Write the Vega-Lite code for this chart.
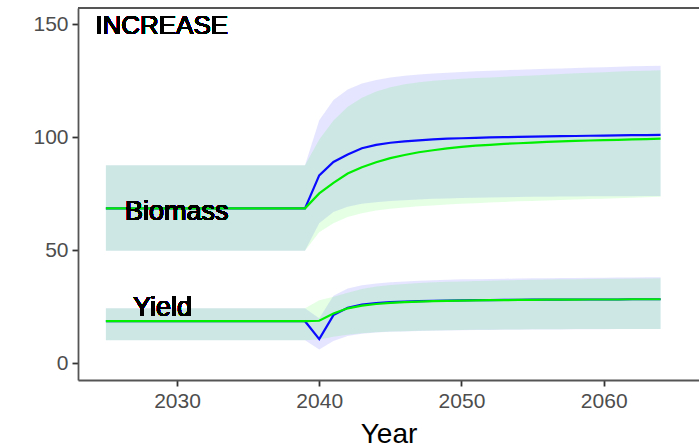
{
  "$schema": "https://vega.github.io/schema/vega-lite/v6.json",
  "width": 621,
  "height": 372,
  "autosize": {"type": "none"},
  "padding": {"left": 78, "top": 8, "right": 0, "bottom": 68},
  "background": "white",
  "config": {
    "view": {"stroke": null},
    "font": "Liberation Sans",
    "axis": {
      "grid": false,
      "domainColor": "#555555",
      "domainWidth": 1.8,
      "tickColor": "#333333",
      "tickWidth": 1.8,
      "tickSize": 6,
      "labelFont": "Liberation Sans",
      "labelFontSize": 21,
      "labelColor": "#4d4d4d",
      "titleFont": "Liberation Sans",
      "titleFontWeight": "normal",
      "titleColor": "#000000"
    }
  },
  "data": {
    "values": [
      {"year":2025,"metric":"Biomass","scenario":"blue","median":68.6,"lower":49.8,"upper":87.7},
      {"year":2026,"metric":"Biomass","scenario":"blue","median":68.6,"lower":49.8,"upper":87.7},
      {"year":2027,"metric":"Biomass","scenario":"blue","median":68.6,"lower":49.8,"upper":87.7},
      {"year":2028,"metric":"Biomass","scenario":"blue","median":68.6,"lower":49.8,"upper":87.7},
      {"year":2029,"metric":"Biomass","scenario":"blue","median":68.6,"lower":49.8,"upper":87.7},
      {"year":2030,"metric":"Biomass","scenario":"blue","median":68.6,"lower":49.8,"upper":87.7},
      {"year":2031,"metric":"Biomass","scenario":"blue","median":68.6,"lower":49.8,"upper":87.7},
      {"year":2032,"metric":"Biomass","scenario":"blue","median":68.6,"lower":49.8,"upper":87.7},
      {"year":2033,"metric":"Biomass","scenario":"blue","median":68.6,"lower":49.8,"upper":87.7},
      {"year":2034,"metric":"Biomass","scenario":"blue","median":68.6,"lower":49.8,"upper":87.7},
      {"year":2035,"metric":"Biomass","scenario":"blue","median":68.6,"lower":49.8,"upper":87.7},
      {"year":2036,"metric":"Biomass","scenario":"blue","median":68.6,"lower":49.8,"upper":87.7},
      {"year":2037,"metric":"Biomass","scenario":"blue","median":68.6,"lower":49.8,"upper":87.7},
      {"year":2038,"metric":"Biomass","scenario":"blue","median":68.6,"lower":49.8,"upper":87.7},
      {"year":2039,"metric":"Biomass","scenario":"blue","median":68.6,"lower":49.8,"upper":87.7},
      {"year":2040,"metric":"Biomass","scenario":"blue","median":83.2,"lower":62.0,"upper":107.6},
      {"year":2041,"metric":"Biomass","scenario":"blue","median":89.1,"lower":67.0,"upper":116.5},
      {"year":2042,"metric":"Biomass","scenario":"blue","median":92.4,"lower":69.3,"upper":121.2},
      {"year":2043,"metric":"Biomass","scenario":"blue","median":95.2,"lower":70.6,"upper":123.8},
      {"year":2044,"metric":"Biomass","scenario":"blue","median":96.7,"lower":71.3,"upper":125.4},
      {"year":2045,"metric":"Biomass","scenario":"blue","median":97.6,"lower":71.8,"upper":126.5},
      {"year":2046,"metric":"Biomass","scenario":"blue","median":98.2,"lower":72.2,"upper":127.2},
      {"year":2047,"metric":"Biomass","scenario":"blue","median":98.7,"lower":72.5,"upper":127.8},
      {"year":2048,"metric":"Biomass","scenario":"blue","median":99.1,"lower":72.8,"upper":128.2},
      {"year":2049,"metric":"Biomass","scenario":"blue","median":99.4,"lower":73.0,"upper":128.6},
      {"year":2050,"metric":"Biomass","scenario":"blue","median":99.6,"lower":73.2,"upper":128.9},
      {"year":2051,"metric":"Biomass","scenario":"blue","median":99.8,"lower":73.3,"upper":129.2},
      {"year":2052,"metric":"Biomass","scenario":"blue","median":100.0,"lower":73.4,"upper":129.5},
      {"year":2053,"metric":"Biomass","scenario":"blue","median":100.1,"lower":73.5,"upper":129.7},
      {"year":2054,"metric":"Biomass","scenario":"blue","median":100.2,"lower":73.6,"upper":129.9},
      {"year":2055,"metric":"Biomass","scenario":"blue","median":100.3,"lower":73.7,"upper":130.1},
      {"year":2056,"metric":"Biomass","scenario":"blue","median":100.4,"lower":73.7,"upper":130.3},
      {"year":2057,"metric":"Biomass","scenario":"blue","median":100.5,"lower":73.8,"upper":130.5},
      {"year":2058,"metric":"Biomass","scenario":"blue","median":100.6,"lower":73.8,"upper":130.7},
      {"year":2059,"metric":"Biomass","scenario":"blue","median":100.7,"lower":73.9,"upper":130.9},
      {"year":2060,"metric":"Biomass","scenario":"blue","median":100.8,"lower":73.9,"upper":131.0},
      {"year":2061,"metric":"Biomass","scenario":"blue","median":100.9,"lower":74.0,"upper":131.2},
      {"year":2062,"metric":"Biomass","scenario":"blue","median":101.0,"lower":74.0,"upper":131.4},
      {"year":2063,"metric":"Biomass","scenario":"blue","median":101.0,"lower":74.1,"upper":131.5},
      {"year":2064,"metric":"Biomass","scenario":"blue","median":101.1,"lower":74.1,"upper":131.7},

      {"year":2025,"metric":"Biomass","scenario":"green","median":68.6,"lower":49.8,"upper":87.7},
      {"year":2026,"metric":"Biomass","scenario":"green","median":68.6,"lower":49.8,"upper":87.7},
      {"year":2027,"metric":"Biomass","scenario":"green","median":68.6,"lower":49.8,"upper":87.7},
      {"year":2028,"metric":"Biomass","scenario":"green","median":68.6,"lower":49.8,"upper":87.7},
      {"year":2029,"metric":"Biomass","scenario":"green","median":68.6,"lower":49.8,"upper":87.7},
      {"year":2030,"metric":"Biomass","scenario":"green","median":68.6,"lower":49.8,"upper":87.7},
      {"year":2031,"metric":"Biomass","scenario":"green","median":68.6,"lower":49.8,"upper":87.7},
      {"year":2032,"metric":"Biomass","scenario":"green","median":68.6,"lower":49.8,"upper":87.7},
      {"year":2033,"metric":"Biomass","scenario":"green","median":68.6,"lower":49.8,"upper":87.7},
      {"year":2034,"metric":"Biomass","scenario":"green","median":68.6,"lower":49.8,"upper":87.7},
      {"year":2035,"metric":"Biomass","scenario":"green","median":68.6,"lower":49.8,"upper":87.7},
      {"year":2036,"metric":"Biomass","scenario":"green","median":68.6,"lower":49.8,"upper":87.7},
      {"year":2037,"metric":"Biomass","scenario":"green","median":68.6,"lower":49.8,"upper":87.7},
      {"year":2038,"metric":"Biomass","scenario":"green","median":68.6,"lower":49.8,"upper":87.7},
      {"year":2039,"metric":"Biomass","scenario":"green","median":68.6,"lower":49.8,"upper":87.7},
      {"year":2040,"metric":"Biomass","scenario":"green","median":75.2,"lower":58.0,"upper":99.0},
      {"year":2041,"metric":"Biomass","scenario":"green","median":79.9,"lower":62.0,"upper":107.5},
      {"year":2042,"metric":"Biomass","scenario":"green","median":84.0,"lower":64.8,"upper":113.5},
      {"year":2043,"metric":"Biomass","scenario":"green","median":86.8,"lower":66.4,"upper":117.5},
      {"year":2044,"metric":"Biomass","scenario":"green","median":89.0,"lower":67.6,"upper":120.3},
      {"year":2045,"metric":"Biomass","scenario":"green","median":90.8,"lower":68.4,"upper":122.2},
      {"year":2046,"metric":"Biomass","scenario":"green","median":92.2,"lower":69.0,"upper":123.5},
      {"year":2047,"metric":"Biomass","scenario":"green","median":93.4,"lower":69.5,"upper":124.4},
      {"year":2048,"metric":"Biomass","scenario":"green","median":94.3,"lower":69.9,"upper":125.0},
      {"year":2049,"metric":"Biomass","scenario":"green","median":95.1,"lower":70.3,"upper":125.5},
      {"year":2050,"metric":"Biomass","scenario":"green","median":95.8,"lower":70.6,"upper":125.9},
      {"year":2051,"metric":"Biomass","scenario":"green","median":96.3,"lower":70.9,"upper":126.2},
      {"year":2052,"metric":"Biomass","scenario":"green","median":96.7,"lower":71.2,"upper":126.5},
      {"year":2053,"metric":"Biomass","scenario":"green","median":97.1,"lower":71.4,"upper":126.8},
      {"year":2054,"metric":"Biomass","scenario":"green","median":97.4,"lower":71.7,"upper":127.1},
      {"year":2055,"metric":"Biomass","scenario":"green","median":97.7,"lower":71.9,"upper":127.4},
      {"year":2056,"metric":"Biomass","scenario":"green","median":98.0,"lower":72.1,"upper":127.7},
      {"year":2057,"metric":"Biomass","scenario":"green","median":98.2,"lower":72.3,"upper":128.0},
      {"year":2058,"metric":"Biomass","scenario":"green","median":98.4,"lower":72.5,"upper":128.3},
      {"year":2059,"metric":"Biomass","scenario":"green","median":98.6,"lower":72.7,"upper":128.6},
      {"year":2060,"metric":"Biomass","scenario":"green","median":98.8,"lower":72.9,"upper":128.8},
      {"year":2061,"metric":"Biomass","scenario":"green","median":98.9,"lower":73.1,"upper":129.1},
      {"year":2062,"metric":"Biomass","scenario":"green","median":99.1,"lower":73.3,"upper":129.3},
      {"year":2063,"metric":"Biomass","scenario":"green","median":99.2,"lower":73.5,"upper":129.5},
      {"year":2064,"metric":"Biomass","scenario":"green","median":99.4,"lower":73.7,"upper":129.7},

      {"year":2025,"metric":"Yield","scenario":"blue","median":18.7,"lower":10.3,"upper":24.4},
      {"year":2026,"metric":"Yield","scenario":"blue","median":18.7,"lower":10.3,"upper":24.4},
      {"year":2027,"metric":"Yield","scenario":"blue","median":18.7,"lower":10.3,"upper":24.4},
      {"year":2028,"metric":"Yield","scenario":"blue","median":18.7,"lower":10.3,"upper":24.4},
      {"year":2029,"metric":"Yield","scenario":"blue","median":18.7,"lower":10.3,"upper":24.4},
      {"year":2030,"metric":"Yield","scenario":"blue","median":18.7,"lower":10.3,"upper":24.4},
      {"year":2031,"metric":"Yield","scenario":"blue","median":18.7,"lower":10.3,"upper":24.4},
      {"year":2032,"metric":"Yield","scenario":"blue","median":18.7,"lower":10.3,"upper":24.4},
      {"year":2033,"metric":"Yield","scenario":"blue","median":18.7,"lower":10.3,"upper":24.4},
      {"year":2034,"metric":"Yield","scenario":"blue","median":18.7,"lower":10.3,"upper":24.4},
      {"year":2035,"metric":"Yield","scenario":"blue","median":18.7,"lower":10.3,"upper":24.4},
      {"year":2036,"metric":"Yield","scenario":"blue","median":18.7,"lower":10.3,"upper":24.4},
      {"year":2037,"metric":"Yield","scenario":"blue","median":18.7,"lower":10.3,"upper":24.4},
      {"year":2038,"metric":"Yield","scenario":"blue","median":18.7,"lower":10.3,"upper":24.4},
      {"year":2039,"metric":"Yield","scenario":"blue","median":18.7,"lower":10.3,"upper":24.4},
      {"year":2040,"metric":"Yield","scenario":"blue","median":10.8,"lower":6.2,"upper":20.0},
      {"year":2041,"metric":"Yield","scenario":"blue","median":21.4,"lower":10.0,"upper":30.0},
      {"year":2042,"metric":"Yield","scenario":"blue","median":24.6,"lower":12.2,"upper":33.2},
      {"year":2043,"metric":"Yield","scenario":"blue","median":26.0,"lower":13.2,"upper":34.6},
      {"year":2044,"metric":"Yield","scenario":"blue","median":26.7,"lower":13.7,"upper":35.4},
      {"year":2045,"metric":"Yield","scenario":"blue","median":27.1,"lower":14.0,"upper":35.9},
      {"year":2046,"metric":"Yield","scenario":"blue","median":27.4,"lower":14.2,"upper":36.3},
      {"year":2047,"metric":"Yield","scenario":"blue","median":27.6,"lower":14.4,"upper":36.6},
      {"year":2048,"metric":"Yield","scenario":"blue","median":27.7,"lower":14.5,"upper":36.8},
      {"year":2049,"metric":"Yield","scenario":"blue","median":27.8,"lower":14.6,"upper":37.0},
      {"year":2050,"metric":"Yield","scenario":"blue","median":27.9,"lower":14.7,"upper":37.2},
      {"year":2051,"metric":"Yield","scenario":"blue","median":28.0,"lower":14.8,"upper":37.3},
      {"year":2052,"metric":"Yield","scenario":"blue","median":28.0,"lower":14.8,"upper":37.4},
      {"year":2053,"metric":"Yield","scenario":"blue","median":28.1,"lower":14.9,"upper":37.5},
      {"year":2054,"metric":"Yield","scenario":"blue","median":28.1,"lower":14.9,"upper":37.6},
      {"year":2055,"metric":"Yield","scenario":"blue","median":28.2,"lower":15.0,"upper":37.7},
      {"year":2056,"metric":"Yield","scenario":"blue","median":28.2,"lower":15.0,"upper":37.7},
      {"year":2057,"metric":"Yield","scenario":"blue","median":28.2,"lower":15.0,"upper":37.8},
      {"year":2058,"metric":"Yield","scenario":"blue","median":28.3,"lower":15.1,"upper":37.8},
      {"year":2059,"metric":"Yield","scenario":"blue","median":28.3,"lower":15.1,"upper":37.9},
      {"year":2060,"metric":"Yield","scenario":"blue","median":28.3,"lower":15.1,"upper":37.9},
      {"year":2061,"metric":"Yield","scenario":"blue","median":28.3,"lower":15.2,"upper":38.0},
      {"year":2062,"metric":"Yield","scenario":"blue","median":28.4,"lower":15.2,"upper":38.0},
      {"year":2063,"metric":"Yield","scenario":"blue","median":28.4,"lower":15.2,"upper":38.1},
      {"year":2064,"metric":"Yield","scenario":"blue","median":28.4,"lower":15.2,"upper":38.1},

      {"year":2025,"metric":"Yield","scenario":"green","median":18.7,"lower":10.3,"upper":24.4},
      {"year":2026,"metric":"Yield","scenario":"green","median":18.7,"lower":10.3,"upper":24.4},
      {"year":2027,"metric":"Yield","scenario":"green","median":18.7,"lower":10.3,"upper":24.4},
      {"year":2028,"metric":"Yield","scenario":"green","median":18.7,"lower":10.3,"upper":24.4},
      {"year":2029,"metric":"Yield","scenario":"green","median":18.7,"lower":10.3,"upper":24.4},
      {"year":2030,"metric":"Yield","scenario":"green","median":18.7,"lower":10.3,"upper":24.4},
      {"year":2031,"metric":"Yield","scenario":"green","median":18.7,"lower":10.3,"upper":24.4},
      {"year":2032,"metric":"Yield","scenario":"green","median":18.7,"lower":10.3,"upper":24.4},
      {"year":2033,"metric":"Yield","scenario":"green","median":18.7,"lower":10.3,"upper":24.4},
      {"year":2034,"metric":"Yield","scenario":"green","median":18.7,"lower":10.3,"upper":24.4},
      {"year":2035,"metric":"Yield","scenario":"green","median":18.7,"lower":10.3,"upper":24.4},
      {"year":2036,"metric":"Yield","scenario":"green","median":18.7,"lower":10.3,"upper":24.4},
      {"year":2037,"metric":"Yield","scenario":"green","median":18.7,"lower":10.3,"upper":24.4},
      {"year":2038,"metric":"Yield","scenario":"green","median":18.7,"lower":10.3,"upper":24.4},
      {"year":2039,"metric":"Yield","scenario":"green","median":18.7,"lower":10.3,"upper":24.4},
      {"year":2040,"metric":"Yield","scenario":"green","median":18.9,"lower":10.6,"upper":28.0},
      {"year":2041,"metric":"Yield","scenario":"green","median":22.1,"lower":11.8,"upper":29.5},
      {"year":2042,"metric":"Yield","scenario":"green","median":24.4,"lower":12.7,"upper":31.3},
      {"year":2043,"metric":"Yield","scenario":"green","median":25.6,"lower":13.4,"upper":32.9},
      {"year":2044,"metric":"Yield","scenario":"green","median":26.3,"lower":13.8,"upper":34.0},
      {"year":2045,"metric":"Yield","scenario":"green","median":26.8,"lower":14.1,"upper":34.7},
      {"year":2046,"metric":"Yield","scenario":"green","median":27.1,"lower":14.3,"upper":35.2},
      {"year":2047,"metric":"Yield","scenario":"green","median":27.4,"lower":14.5,"upper":35.6},
      {"year":2048,"metric":"Yield","scenario":"green","median":27.6,"lower":14.6,"upper":35.9},
      {"year":2049,"metric":"Yield","scenario":"green","median":27.7,"lower":14.7,"upper":36.1},
      {"year":2050,"metric":"Yield","scenario":"green","median":27.8,"lower":14.8,"upper":36.3},
      {"year":2051,"metric":"Yield","scenario":"green","median":27.9,"lower":14.9,"upper":36.5},
      {"year":2052,"metric":"Yield","scenario":"green","median":28.0,"lower":14.9,"upper":36.6},
      {"year":2053,"metric":"Yield","scenario":"green","median":28.0,"lower":15.0,"upper":36.8},
      {"year":2054,"metric":"Yield","scenario":"green","median":28.1,"lower":15.0,"upper":36.9},
      {"year":2055,"metric":"Yield","scenario":"green","median":28.1,"lower":15.1,"upper":37.0},
      {"year":2056,"metric":"Yield","scenario":"green","median":28.2,"lower":15.1,"upper":37.1},
      {"year":2057,"metric":"Yield","scenario":"green","median":28.2,"lower":15.1,"upper":37.2},
      {"year":2058,"metric":"Yield","scenario":"green","median":28.2,"lower":15.2,"upper":37.3},
      {"year":2059,"metric":"Yield","scenario":"green","median":28.3,"lower":15.2,"upper":37.4},
      {"year":2060,"metric":"Yield","scenario":"green","median":28.3,"lower":15.2,"upper":37.5},
      {"year":2061,"metric":"Yield","scenario":"green","median":28.3,"lower":15.3,"upper":37.5},
      {"year":2062,"metric":"Yield","scenario":"green","median":28.4,"lower":15.3,"upper":37.6},
      {"year":2063,"metric":"Yield","scenario":"green","median":28.4,"lower":15.3,"upper":37.6},
      {"year":2064,"metric":"Yield","scenario":"green","median":28.4,"lower":15.3,"upper":37.7}
    ]
  },
  "layer": [
    {
      "transform": [{"filter": "datum.scenario === 'blue'"}],
      "mark": {"type": "area", "fill": "#0000ff", "fillOpacity": 0.1, "interpolate": "linear"},
      "encoding": {
        "x": {"field": "year", "type": "quantitative", "scale": {"domain": [2023.04, 2066.7], "nice": false, "zero": false},
              "axis": {"values": [2030, 2040, 2050, 2060], "format": "d", "title": "Year", "titleFontSize": 28, "labelPadding": 4, "titlePadding": 9}},
        "y": {"field": "lower", "type": "quantitative", "scale": {"domain": [-7.3, 157.2], "nice": false, "zero": false},
              "axis": {"values": [0, 50, 100, 150], "title": null, "labelPadding": 4}},
        "y2": {"field": "upper"},
        "detail": {"field": "metric"}
      }
    },
    {
      "transform": [{"filter": "datum.scenario === 'green'"}],
      "mark": {"type": "area", "fill": "#00ff00", "fillOpacity": 0.1, "interpolate": "linear"},
      "encoding": {
        "x": {"field": "year", "type": "quantitative"},
        "y": {"field": "lower", "type": "quantitative"},
        "y2": {"field": "upper"},
        "detail": {"field": "metric"}
      }
    },
    {
      "transform": [{"filter": "datum.scenario === 'blue'"}],
      "mark": {"type": "line", "color": "#0a0aff", "strokeWidth": 2.2},
      "encoding": {
        "x": {"field": "year", "type": "quantitative"},
        "y": {"field": "median", "type": "quantitative"},
        "detail": {"field": "metric"}
      }
    },
    {
      "transform": [{"filter": "datum.scenario === 'green'"}],
      "mark": {"type": "line", "color": "#00ee00", "strokeWidth": 2.2},
      "encoding": {
        "x": {"field": "year", "type": "quantitative"},
        "y": {"field": "median", "type": "quantitative"},
        "detail": {"field": "metric"}
      }
    },
    {
      "mark": {"type": "rule", "color": "#555555", "strokeWidth": 1.8},
      "encoding": {"y": {"datum": 157.2}}
    },
    {
      "mark": {"type": "text", "align": "left", "baseline": "middle", "fontSize": 26, "font": "Liberation Sans", "color": "#000000"},
      "encoding": {"x": {"datum": 2024.25}, "y": {"datum": 149.3}, "text": {"value": "INCREASE"}}
    },
    {
      "mark": {"type": "text", "align": "left", "baseline": "middle", "fontSize": 27, "font": "Liberation Sans", "color": "#000000"},
      "encoding": {"x": {"datum": 2026.35}, "y": {"datum": 67.0}, "text": {"value": "Biomass"}}
    },
    {
      "mark": {"type": "text", "align": "left", "baseline": "middle", "fontSize": 27, "font": "Liberation Sans", "color": "#000000"},
      "encoding": {"x": {"datum": 2026.9}, "y": {"datum": 24.6}, "text": {"value": "Yield"}}
    }
  ]
}
